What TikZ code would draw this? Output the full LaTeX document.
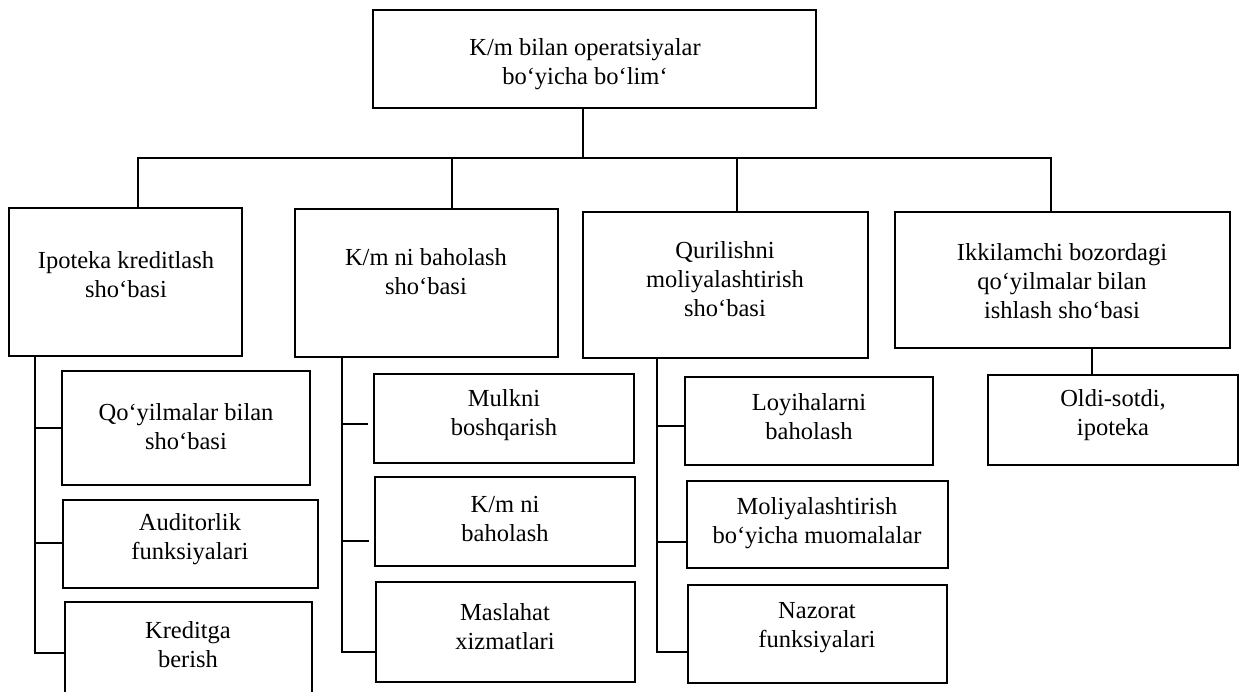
\documentclass[tikz,border=0pt]{standalone}
\usepackage{fontspec}
\setmainfont{Liberation Serif}
% box from its edges: name, left, top, right, bottom (y grows downwards)
\newcommand\orgbox[5]{%
  \node[box, minimum width={#4pt-#2pt}, minimum height={#5pt-#3pt}]
    (#1) at ({(#2+#4)/2},{(#3+#5)/2}) {};}
\begin{document}
\begin{tikzpicture}[x=1pt,y=-1pt,
  box/.style={draw, rectangle, line width=1.6pt, inner sep=0pt, outer sep=0pt},
  lbl/.style={align=center, inner sep=0pt, font=\fontsize{24.5}{29}\selectfont},
  link/.style={line width=1.6pt}]
\useasboundingbox (0,0) rectangle (1240,692);
\begin{scope}
\clip (0,0) rectangle (1240,692);

% head of the department
\orgbox{top}{373}{10}{816}{108}
\node[lbl] (t0) at (585,64) {K/m bilan operatsiyalar\\bo‘yicha bo‘lim‘};

% branches
\orgbox{B1}{9}{208}{242}{356}
\orgbox{B2}{295}{209}{558}{357}
\orgbox{B3}{583}{212}{868}{358}
\orgbox{B4}{895}{212}{1230}{348}
\node[lbl] (t1) at (126,275) {Ipoteka kreditlash\\sho‘basi};
\node[lbl] (t2) at (426,272) {K/m ni baholash\\sho‘basi};
\node[lbl] (t3) at (725,279) {Qurilishni\\moliyalashtirish\\sho‘basi};
\node[lbl] (t4) at (1062,281) {Ikkilamchi bozordagi\\qo‘yilmalar bilan\\ishlash sho‘basi};

% sub-units
\orgbox{S11}{62}{371}{310}{485}
\orgbox{S12}{63}{500}{318}{588}
\orgbox{S13}{65}{602}{312}{704}
\orgbox{S21}{374}{374}{634}{463}
\orgbox{S22}{375}{477}{635}{566}
\orgbox{S23}{376}{582}{635}{682}
\orgbox{S31}{685}{377}{933}{465}
\orgbox{S32}{687}{481}{948}{568}
\orgbox{S33}{688}{585}{947}{683}
\orgbox{S41}{988}{375}{1238}{465}
\node[lbl] (u11) at (186,427) {Qo‘yilmalar bilan\\sho‘basi};
\node[lbl] (u12) at (190,539) {Auditorlik\\funksiyalari};
\node[lbl] (u13) at (188,645) {Kreditga\\berish};
\node[lbl] (u21) at (504,415) {Mulkni\\boshqarish};
\node[lbl] (u22) at (505,519) {K/m ni\\baholash};
\node[lbl] (u23) at (505,627) {Maslahat\\xizmatlari};
\node[lbl] (u31) at (809,417) {Loyihalarni\\baholash};
\node[lbl] (u32) at (817,523) {Moliyalashtirish\\bo‘yicha muomalalar};
\node[lbl] (u33) at (817,628) {Nazorat\\funksiyalari};
\node[lbl] (u41) at (1113,415) {Oldi-sotdi,\\ipoteka};

% bus from the head to the branches
\coordinate (tstub) at (583,158);
\coordinate (d1) at (138,158);
\coordinate (d2) at (452,158);
\coordinate (d3) at (737,158);
\coordinate (d4) at (1051,158);
\draw[link] (tstub |- top.south) -- (tstub);
\draw[link] (d1 |- B1.north) -- (d1) -- (d4) -- (d4 |- B4.north);
\draw[link] (d2) -- (d2 |- B2.north);
\draw[link] (d3) -- (d3 |- B3.north);

% trunk of the first branch
\coordinate (j11) at (35,428);
\coordinate (j12) at (35,543);
\coordinate (j13) at (35,653);
\draw[link] (j13 |- B1.south) -- (j13) -- (j13 -| S13.west);
\draw[link] (j11) -- (j11 -| S11.west);
\draw[link] (j12) -- (j12 -| S12.west);

% trunk of the second branch
\coordinate (j21) at (342,424);
\coordinate (j22) at (342,541);
\coordinate (j23) at (342,652);
\draw[link] (j23 |- B2.south) -- (j23) -- (j23 -| S23.west);
\draw[link, shorten >=6pt] (j21) -- (j21 -| S21.west);
\draw[link, shorten >=6pt] (j22) -- (j22 -| S22.west);

% trunk of the third branch
\coordinate (j31) at (657,426);
\coordinate (j32) at (657,542);
\coordinate (j33) at (657,652);
\draw[link] (j33 |- B3.south) -- (j33) -- (j33 -| S33.west);
\draw[link] (j31) -- (j31 -| S31.west);
\draw[link] (j32) -- (j32 -| S32.west);

% fourth branch
\coordinate (j41) at (1092,360);
\draw[link] (j41 |- B4.south) -- (j41 |- S41.north);
\end{scope}
\end{tikzpicture}
\end{document}
